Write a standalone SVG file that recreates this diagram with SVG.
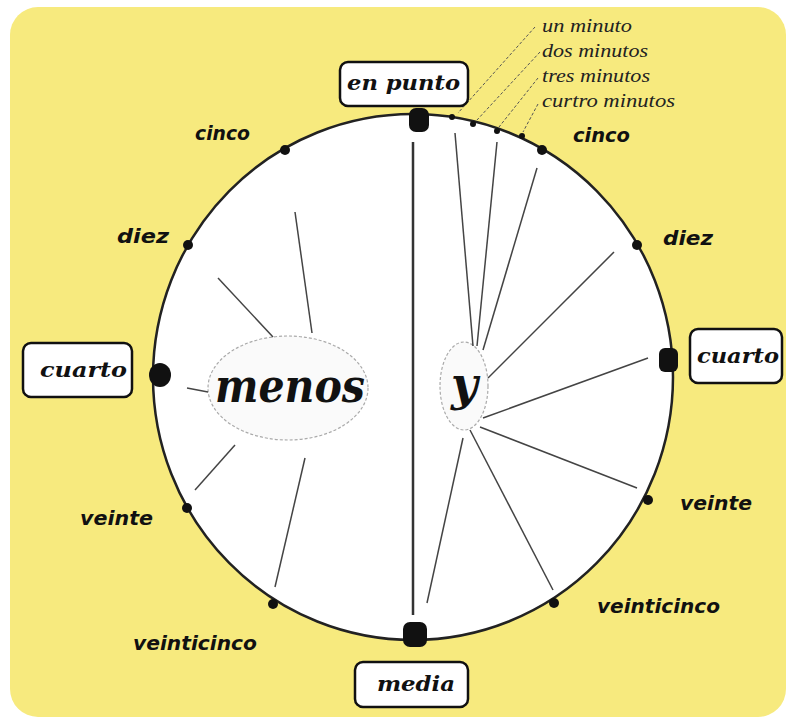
<svg xmlns="http://www.w3.org/2000/svg" width="787" height="720" viewBox="0 0 787 720">
<style>
.lbl{font-family:"DejaVu Sans",sans-serif;font-weight:bold;font-style:italic;font-size:19px;fill:#111}
.scr{font-family:"DejaVu Serif",serif;font-weight:bold;font-style:italic;fill:#111}
.min{font-family:"Liberation Serif",serif;font-style:italic;font-size:18px;fill:#222}
.box{fill:#fff;stroke:#111;stroke-width:2.5}
.ray{stroke:#444;stroke-width:1.5;fill:none}
.lead{stroke:#555;stroke-width:1;stroke-dasharray:3 2;fill:none}
.dot{fill:#111}
</style>
<rect x="0" y="0" width="787" height="720" fill="#fff"/>
<rect x="10" y="7" width="776" height="710" rx="28" fill="#F7EA7E"/>
<g id="clock">
<ellipse cx="413" cy="377" rx="260" ry="263" fill="#fff" stroke="#222" stroke-width="2.5"/>
<line x1="413" y1="142" x2="413" y2="615" stroke="#333" stroke-width="2.5"/>
</g>
<g id="menos">
<ellipse cx="288" cy="388" rx="80" ry="52" fill="#fafafa" stroke="#aaa" stroke-width="1.2" stroke-dasharray="3 2"/>
<text class="scr" x="215" y="402" font-size="46" textLength="150" lengthAdjust="spacingAndGlyphs">menos</text>
</g>
<g id="y">
<ellipse cx="464" cy="386" rx="24" ry="44" fill="#fafafa" stroke="#aaa" stroke-width="1.2" stroke-dasharray="3 2"/>
<text class="scr" x="451" y="400" font-size="46">y</text>
</g>
<g id="connectors">
<line class="ray" x1="295" y1="212" x2="312" y2="333"/>
<line class="ray" x1="218" y1="278" x2="273" y2="337"/>
<line class="ray" x1="187" y1="388" x2="208" y2="392"/>
<line class="ray" x1="235" y1="445" x2="195" y2="490"/>
<line class="ray" x1="305" y1="458" x2="275" y2="587"/>
<line class="ray" x1="455" y1="133" x2="473" y2="346"/>
<line class="ray" x1="497" y1="142" x2="477" y2="346"/>
<line class="ray" x1="537" y1="168" x2="483" y2="350"/>
<line class="ray" x1="614" y1="252" x2="488" y2="378"/>
<line class="ray" x1="648" y1="358" x2="483" y2="418"/>
<line class="ray" x1="637" y1="488" x2="480" y2="427"/>
<line class="ray" x1="553" y1="590" x2="470" y2="430"/>
<line class="ray" x1="427" y1="603" x2="463" y2="438"/>
<line class="lead" x1="535" y1="27" x2="458" y2="113"/>
<line class="lead" x1="540" y1="52" x2="477" y2="120"/>
<line class="lead" x1="538" y1="78" x2="499" y2="127"/>
<line class="lead" x1="538" y1="104" x2="523" y2="132"/>
</g>
<g id="dots">
<rect class="dot" x="409" y="108" width="20" height="24" rx="7"/>
<rect class="dot" x="403" y="622" width="24" height="25" rx="7"/>
<ellipse class="dot" cx="160" cy="375" rx="11" ry="12"/>
<rect class="dot" x="659" y="348" width="19" height="24" rx="6"/>
<circle class="dot" cx="285" cy="150" r="5"/>
<circle class="dot" cx="188" cy="245" r="5"/>
<circle class="dot" cx="187" cy="508" r="5"/>
<circle class="dot" cx="273" cy="604" r="5"/>
<circle class="dot" cx="542" cy="150" r="5"/>
<circle class="dot" cx="637" cy="245" r="5"/>
<circle class="dot" cx="648" cy="500" r="5"/>
<circle class="dot" cx="554" cy="603" r="5"/>
<circle class="dot" cx="452" cy="117" r="3"/>
<circle class="dot" cx="473" cy="124" r="3"/>
<circle class="dot" cx="497" cy="131" r="3"/>
<circle class="dot" cx="522" cy="136" r="3"/>
</g>
<g id="en-punto">
<rect class="box" x="340" y="62" width="128" height="44" rx="8"/>
<text class="scr" x="347" y="90" font-size="21" textLength="113" lengthAdjust="spacingAndGlyphs">en punto</text>
</g>
<g id="media">
<rect class="box" x="355" y="662" width="113" height="45" rx="8"/>
<text class="scr" x="377" y="691" font-size="21" textLength="78" lengthAdjust="spacingAndGlyphs">media</text>
</g>
<g id="cuarto-left">
<rect class="box" x="23" y="343" width="109" height="54" rx="8"/>
<text class="scr" x="40" y="377" font-size="21" textLength="87" lengthAdjust="spacingAndGlyphs">cuarto</text>
</g>
<g id="cuarto-right">
<rect class="box" x="690" y="329" width="92" height="54" rx="8"/>
<text class="scr" x="697" y="363" font-size="21" textLength="82" lengthAdjust="spacingAndGlyphs">cuarto</text>
</g>
<g id="labels">
<text class="lbl" x="195" y="140" textLength="55" lengthAdjust="spacingAndGlyphs">cinco</text>
<text class="lbl" x="117" y="243" textLength="52" lengthAdjust="spacingAndGlyphs">diez</text>
<text class="lbl" x="80" y="525" textLength="73" lengthAdjust="spacingAndGlyphs">veinte</text>
<text class="lbl" x="133" y="650" textLength="124" lengthAdjust="spacingAndGlyphs">veinticinco</text>
<text class="lbl" x="573" y="142" textLength="57" lengthAdjust="spacingAndGlyphs">cinco</text>
<text class="lbl" x="663" y="245" textLength="50" lengthAdjust="spacingAndGlyphs">diez</text>
<text class="lbl" x="680" y="510" textLength="72" lengthAdjust="spacingAndGlyphs">veinte</text>
<text class="lbl" x="597" y="613" textLength="123" lengthAdjust="spacingAndGlyphs">veinticinco</text>
</g>
<g id="minutes">
<text class="min" x="542" y="32" textLength="90" lengthAdjust="spacingAndGlyphs">un minuto</text>
<text class="min" x="542" y="57" textLength="106" lengthAdjust="spacingAndGlyphs">dos minutos</text>
<text class="min" x="542" y="82" textLength="108" lengthAdjust="spacingAndGlyphs">tres minutos</text>
<text class="min" x="542" y="107" textLength="133" lengthAdjust="spacingAndGlyphs">curtro minutos</text>
</g>
</svg>
